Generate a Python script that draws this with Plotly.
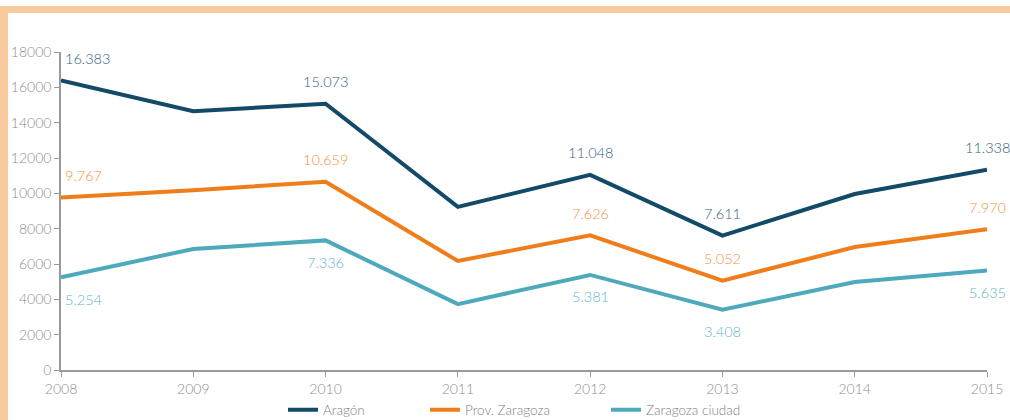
import plotly.graph_objects as go

years = [2008, 2009, 2010, 2011, 2012, 2013, 2014, 2015]
aragon = [16383, 14650, 15073, 9230, 11048, 7611, 9960, 11338]
prov_zaragoza = [9767, 10180, 10659, 6170, 7626, 5052, 6960, 7970]
zaragoza_ciudad = [5254, 6850, 7336, 3730, 5381, 3408, 4980, 5635]
labelled_years = [2008, 2010, 2012, 2013, 2015]
series_names = ["Aragón", "Prov. Zaragoza", "Zaragoza ciudad"]
y_ticks = [0, 2000, 4000, 6000, 8000, 10000, 12000, 14000, 16000, 18000]

line_colors = ["#124a68", "#ef7d1a", "#4fa9bd"]
label_colors = ["#33627f", "#f1923f", "#62b6c8"]
label_shift = [22, 22, -22]

FONT = "Lato, 'Open Sans', sans-serif"

fig = go.Figure()
all_series = [aragon, prov_zaragoza, zaragoza_ciudad]
legends = ["legend", "legend2", "legend3"]
for name, vals, col, lg in zip(series_names, all_series, line_colors, legends):
    fig.add_trace(go.Scatter(x=years, y=vals, mode="lines", name=name,
                             line=dict(color=col, width=4), legend=lg,
                             hoverinfo="x+y"))

def fmt(v):
    return f"{v:,}".replace(",", ".")

annotations = []
for vals, col, sh in zip(all_series, label_colors, label_shift):
    for yr, v in zip(years, vals):
        if yr not in labelled_years:
            continue
        xa = "left" if yr == 2008 else "center"
        annotations.append(dict(x=yr, y=v, xref="x", yref="y", text=fmt(v),
                                showarrow=False, xanchor=xa, yanchor="middle",
                                xshift=2 if yr == 2008 else 0, yshift=sh,
                                font=dict(family=FONT, size=14.5, color=col, weight=300)))

# plot area pixel geometry for paper-coord border shapes
L, R, T, B, W, H = 61, 23, 52, 50, 1010, 420
pw = W - L - R
ph = H - T - B
def px(xp):
    return (xp - L) / pw
def py(yp):
    return (H - B - yp) / ph

band = "#f8cb9f"
shapes = [
    dict(type="rect", xref="paper", yref="paper", x0=px(0), x1=px(1010),
         y0=py(13), y1=py(6), fillcolor=band, line=dict(width=0), layer="below"),
    dict(type="rect", xref="paper", yref="paper", x0=px(0), x1=px(8),
         y0=py(420), y1=py(6), fillcolor=band, line=dict(width=0), layer="below"),
]

leg_common = dict(orientation="h", yanchor="middle", xanchor="left",
                  xref="container", yref="container",
                  font=dict(family=FONT, size=13.5, color="#808080", weight=300),
                  bgcolor="rgba(0,0,0,0)", itemclick=False)
leg_y = (H - 410) / H

tickfont = dict(family=FONT, size=14, color="#8e8e8e", weight=300)

fig.update_layout(
    width=W, height=H,
    margin=dict(l=L, r=R, t=T, b=B),
    paper_bgcolor="white", plot_bgcolor="white",
    showlegend=True,
    xaxis=dict(range=[2008, 2015], tickvals=years, showgrid=False, zeroline=False,
               showline=True, linecolor="#9a9a9a", linewidth=1.5,
               ticks="outside", ticklen=5, tickcolor="#9a9a9a", automargin=False,
               tickfont=tickfont),
    yaxis=dict(range=[0, 18000], tickvals=y_ticks, tickformat="d",
               showgrid=False, zeroline=False,
               showline=True, linecolor="#9a9a9a", linewidth=1.5,
               ticks="outside", ticklen=5, tickcolor="#9a9a9a", automargin=False,
               tickfont=tickfont),
    legend=dict(x=283 / W, y=leg_y, **leg_common),
    legend2=dict(x=425 / W, y=leg_y, **leg_common),
    legend3=dict(x=606 / W, y=leg_y, **leg_common),
    annotations=annotations,
    shapes=shapes,
)

fig.write_html("out.html", config={"displayModeBar": False},
               post_script="document.body.style.margin='0';document.body.style.padding='0';")
